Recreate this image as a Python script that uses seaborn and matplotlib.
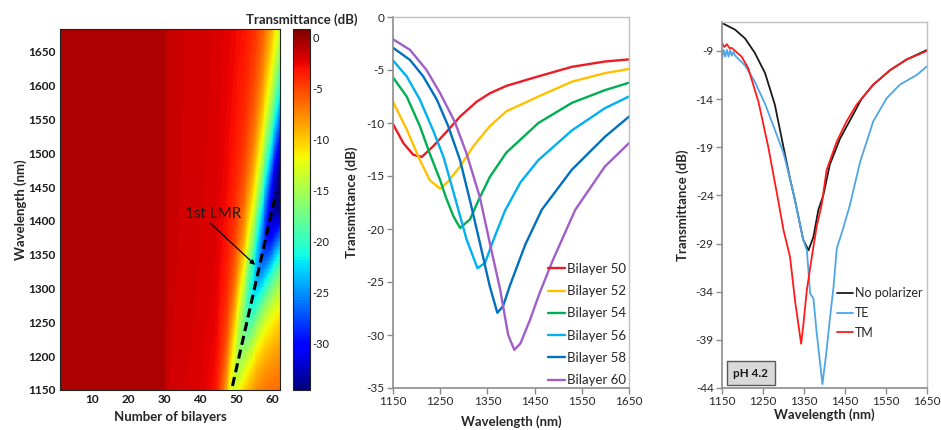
import numpy as np
import pandas as pd
import matplotlib
matplotlib.use('Agg')
import matplotlib.pyplot as plt
from matplotlib.ticker import MultipleLocator, FixedLocator
import seaborn as sns

sns.set_theme(style='white')
plt.rcParams['font.family'] = ['Lato', 'DejaVu Sans']
plt.rcParams['axes.unicode_minus'] = False

# ---------------- Panel 1: simulated map (model parameters)
hm_nodes  = [1, 30, 31, 40, 44, 46, 48, 50, 52, 54, 56, 58, 60, 62]
hm_base   = [-0.7, -0.7, -1.5, -1.8, -1.9, -2.0, -2.1, -2.2, -2.2, -2.3, -2.3, -2.4, -2.4, -2.5]
hm_center = [1000, 1000, 800, 900, 980, 1050, 1120, 1190, 1240, 1285, 1328, 1370, 1410, 1445]
hm_depth  = [0, 0, -2, -3, -4, -7, -9.5, -12, -15, -18.5, -22, -26, -30, -33]
hm_wleft  = [90, 90, 90, 90, 90, 92, 95, 98, 100, 100, 100, 102, 106, 110]
hm_wright = [110, 110, 110, 110, 110, 110, 110, 112, 115, 120, 128, 140, 152, 165]
hm_bilayer_grid = np.arange(1.0, 62.51, 0.25)
hm_wl_grid = np.arange(1686, 1148, -2)
lmr_line_bilayer = [49.0, 61.1]
lmr_line_wl = [1156, 1442]
lmr_text_pos = (35.8, 1404)
lmr_arrow_start = (42.8, 1397)
lmr_arrow_end = (55.3, 1335)
hm_xticks = [10, 20, 30, 40, 50, 60]
hm_yticks = [1150, 1200, 1250, 1300, 1350, 1400, 1450, 1500, 1550, 1600, 1650]
cbar_ticks = [0, -5, -10, -15, -20, -25, -30]

# ---------------- Panel 2: measured spectra vs bilayers
b50_wl = [1150, 1172, 1193, 1211, 1235, 1264, 1292, 1327, 1355, 1390, 1458, 1529, 1599, 1650]
b50_t  = [-10.1, -11.9, -13.0, -13.2, -12.2, -10.8, -9.4, -8.0, -7.2, -6.5, -5.6, -4.7, -4.2, -4.0]
b52_wl = [1150, 1179, 1207, 1228, 1250, 1267, 1292, 1320, 1355, 1390, 1458, 1529, 1599, 1650]
b52_t  = [-8.0, -10.6, -13.5, -15.4, -16.2, -15.5, -14.1, -12.2, -10.3, -8.9, -7.5, -6.1, -5.3, -4.9]
b54_wl = [1150, 1179, 1207, 1228, 1250, 1262, 1278, 1292, 1313, 1331, 1355, 1390, 1458, 1529, 1599, 1650]
b54_t  = [-5.7, -7.5, -10.3, -12.9, -15.4, -17.0, -18.8, -19.9, -19.1, -17.3, -15.1, -12.8, -10.0, -8.1, -6.9, -6.2]
b56_wl = [1150, 1179, 1207, 1235, 1257, 1278, 1306, 1329, 1345, 1363, 1387, 1420, 1458, 1529, 1599, 1650]
b56_t  = [-4.1, -5.6, -7.8, -10.7, -13.2, -16.5, -21.0, -23.7, -23.2, -21.0, -18.3, -15.6, -13.5, -10.7, -8.6, -7.5]
b58_wl = [1150, 1186, 1214, 1243, 1267, 1292, 1313, 1334, 1355, 1371, 1383, 1398, 1430, 1465, 1529, 1599, 1650]
b58_t  = [-2.9, -4.05, -5.6, -7.8, -10.3, -13.5, -17.3, -21.3, -25.4, -27.9, -27.3, -25.3, -21.5, -18.2, -14.4, -11.3, -9.4]
b60_wl = [1150, 1186, 1221, 1250, 1281, 1306, 1334, 1355, 1377, 1394, 1407, 1420, 1440, 1461, 1489, 1536, 1599, 1650]
b60_t  = [-2.1, -3.1, -5.0, -7.2, -9.9, -12.9, -17.0, -21.3, -25.7, -30.0, -31.4, -30.8, -28.6, -26.0, -22.9, -18.2, -14.1, -11.9]
bilayer_labels = ['Bilayer 50', 'Bilayer 52', 'Bilayer 54', 'Bilayer 56', 'Bilayer 58', 'Bilayer 60']
bilayer_colors = ['#ED1C24', '#FFC000', '#00B050', '#00B0F0', '#0070C0', '#A05EC8']

# ---------------- Panel 3: polarization, pH 4.2
nopol_wl = [1150, 1182, 1206, 1230, 1255, 1279, 1300, 1316, 1328, 1348, 1361, 1373, 1385, 1397, 1413, 1438, 1470, 1490, 1519, 1560, 1600, 1650]
nopol_t  = [-6.1, -6.8, -7.7, -9.2, -11.3, -14.6, -19.0, -22.3, -24.5, -28.6, -29.7, -28.3, -25.5, -24.0, -20.8, -18.1, -15.6, -14.0, -12.5, -11.0, -9.9, -8.9]
te_wl = [1150, 1154, 1158, 1162, 1166, 1170, 1174, 1178, 1182, 1206, 1230, 1255, 1279, 1300, 1316, 1328, 1348, 1357, 1365, 1373, 1381, 1395, 1404, 1414, 1422, 1430, 1445, 1462, 1487, 1519, 1552, 1584, 1625, 1650]
te_t  = [-9.8, -8.9, -9.6, -8.9, -9.6, -8.9, -9.5, -9.1, -9.5, -10.5, -12.2, -14.5, -17.2, -19.6, -22.3, -24.5, -28.6, -29.7, -34.2, -34.7, -38.3, -43.6, -40.5, -36.5, -33.5, -29.5, -27.5, -25.0, -20.5, -16.3, -13.9, -12.5, -11.5, -10.6]
tm_wl = [1150, 1156, 1162, 1168, 1174, 1198, 1214, 1239, 1263, 1287, 1300, 1316, 1328, 1336, 1343, 1348, 1357, 1369, 1381, 1393, 1405, 1430, 1454, 1478, 1519, 1560, 1600, 1650]
tm_t  = [-8.2, -8.6, -8.3, -8.7, -8.7, -9.6, -10.8, -14.3, -19.0, -24.5, -27.6, -30.4, -34.9, -37.3, -39.4, -37.6, -33.8, -30.4, -27.2, -25.0, -21.4, -18.4, -16.3, -14.6, -12.5, -11.0, -9.9, -9.0]
pol_labels = ['No polarizer', 'TE', 'TM']
pol_colors = ['#1a1a1a', '#4DA6E8', '#FF1A1A']

# ---------------------------------------------------------------------------
fig = plt.figure(figsize=(9.41, 4.30), dpi=100)
W, H = 941, 430
def rect(x0, y0, x1, y1):
    return [x0 / W, 1 - y1 / H, (x1 - x0) / W, (y1 - y0) / H]

ax1 = fig.add_axes(rect(60, 29, 280, 390))
cax = fig.add_axes(rect(293, 29, 310, 390))
ax2 = fig.add_axes(rect(393, 17, 629, 388))
ax3 = fig.add_axes(rect(722, 22, 927, 388))

# ---- Panel 1 heatmap
base = np.interp(hm_bilayer_grid, hm_nodes, hm_base)
cen = np.interp(hm_bilayer_grid, hm_nodes, hm_center)
dep = np.interp(hm_bilayer_grid, hm_nodes, hm_depth)
wlf = np.interp(hm_bilayer_grid, hm_nodes, hm_wleft)
wrt = np.interp(hm_bilayer_grid, hm_nodes, hm_wright)
WLg = hm_wl_grid[:, None]
delta = WLg - cen[None, :]
wid = np.where(delta < 0, wlf[None, :], wrt[None, :])
Tmap = base[None, :] + dep[None, :] / (1 + (delta / wid) ** 2)
dfmap = pd.DataFrame(Tmap, index=hm_wl_grid, columns=hm_bilayer_grid)

db = hm_bilayer_grid[1] - hm_bilayer_grid[0]
dl = hm_wl_grid[0] - hm_wl_grid[1]
def hx(b):
    return (np.asarray(b, float) - hm_bilayer_grid[0]) / db + 0.5
def hy(l):
    return (hm_wl_grid[0] - np.asarray(l, float)) / dl + 0.5

cmap = plt.get_cmap('jet', 128)
sns.heatmap(dfmap, ax=ax1, cmap=cmap, vmin=-34.6, vmax=0.8, cbar_ax=cax,
            xticklabels=False, yticklabels=False, rasterized=True)
ax1.set_xlim(hx(1.1), hx(62.2))
ax1.set_ylim(hy(1150), hy(1684))
ax1.set_xticks(hx(hm_xticks))
ax1.set_xticklabels([str(v) for v in hm_xticks], fontsize=8.5, fontweight='bold', rotation=0)
ax1.set_yticks(hy(hm_yticks))
ax1.set_yticklabels([str(v) for v in hm_yticks], fontsize=8.5, fontweight='bold', rotation=0)
ax1.tick_params(axis='both', length=0, pad=3, colors='#1a1a1a')
ax1.set_xlabel('Number of bilayers', fontsize=9.5, fontweight='bold', labelpad=4)
ax1.set_ylabel('Wavelength (nm)', fontsize=9.5, fontweight='bold', labelpad=1)
for s in ax1.spines.values():
    s.set_visible(True)
    s.set_color('#222222')
    s.set_linewidth(0.8)

ax1.plot(hx(lmr_line_bilayer), hy(lmr_line_wl), color='black', lw=2.2,
         linestyle=(0, (3.0, 1.6)))
ax1.text(hx(lmr_text_pos[0]), hy(lmr_text_pos[1]), '1st LMR', fontsize=11,
         color='#1a1a1a', ha='left', va='baseline')
ax1.annotate('', xy=(hx(lmr_arrow_end[0]), hy(lmr_arrow_end[1])),
             xytext=(hx(lmr_arrow_start[0]), hy(lmr_arrow_start[1])),
             arrowprops=dict(arrowstyle='-|>', color='black', lw=0.9,
                             mutation_scale=7, shrinkA=0, shrinkB=0))

cbar = ax1.collections[0].colorbar
cbar.set_ticks(cbar_ticks)
cbar.set_ticklabels([str(v) for v in cbar_ticks])
cbar.ax.tick_params(labelsize=8, length=0, pad=2, colors='#1a1a1a')
cbar.outline.set_visible(True)
cbar.outline.set_edgecolor('#222222')
cbar.outline.set_linewidth(0.8)
cax.set_title('Transmittance (dB)', fontsize=9.5, fontweight='bold', pad=4)

# ---- Panel 2 lines
wl_lists = [b50_wl, b52_wl, b54_wl, b56_wl, b58_wl, b60_wl]
t_lists = [b50_t, b52_t, b54_t, b56_t, b58_t, b60_t]
df2 = pd.concat([pd.DataFrame({'Wavelength': w, 'T': t, 'Series': lab})
                 for w, t, lab in zip(wl_lists, t_lists, bilayer_labels)],
                ignore_index=True)
sns.lineplot(data=df2, x='Wavelength', y='T', hue='Series', hue_order=bilayer_labels,
             palette=dict(zip(bilayer_labels, bilayer_colors)), sort=False,
             estimator=None, lw=1.7, ax=ax2)

df3 = pd.concat([pd.DataFrame({'Wavelength': w, 'T': t, 'Series': lab})
                 for w, t, lab in zip([nopol_wl, te_wl, tm_wl], [nopol_t, te_t, tm_t], pol_labels)],
                ignore_index=True)
sns.lineplot(data=df3, x='Wavelength', y='T', hue='Series', hue_order=pol_labels,
             palette=dict(zip(pol_labels, pol_colors)), sort=False,
             estimator=None, lw=1.3, ax=ax3)

def style_excel(ax, ylim, yticks, xpad, ypad):
    ax.set_xlim(1150, 1650)
    ax.set_ylim(*ylim)
    ax.set_xticks([1150, 1250, 1350, 1450, 1550, 1650])
    ax.xaxis.set_minor_locator(MultipleLocator(50))
    ax.set_yticks(yticks)
    ax.tick_params(axis='both', which='both', direction='out', color='#8c8c8c',
                   width=1, labelsize=8.5, labelcolor='#262626', pad=2)
    ax.tick_params(axis='both', which='major', length=4)
    ax.tick_params(axis='both', which='minor', length=4)
    ax.tick_params(axis='y', left=True)
    ax.tick_params(axis='x', bottom=True)
    for side in ['top', 'right']:
        ax.spines[side].set_visible(True)
        ax.spines[side].set_color('#bfbfbf')
        ax.spines[side].set_linewidth(1)
    for side in ['left', 'bottom']:
        ax.spines[side].set_visible(True)
        ax.spines[side].set_color('#8c8c8c')
        ax.spines[side].set_linewidth(1.2)
    ax.set_xlabel('Wavelength (nm)', fontsize=9.5, fontweight='bold', labelpad=xpad)
    ax.set_ylabel('Transmittance (dB)', fontsize=9.5, fontweight='bold', labelpad=ypad)
    ax.grid(False)

style_excel(ax2, (-35, 0), [0, -5, -10, -15, -20, -25, -30, -35], 6, 6)
ax2.yaxis.set_minor_locator(MultipleLocator(2.5))
style_excel(ax3, (-44, -6.0), [-9, -14, -19, -24, -29, -34, -39, -44], 1, 5)
ax3.yaxis.set_minor_locator(FixedLocator(np.arange(-41.5, -6.0, 5)))

h2, l2 = ax2.get_legend_handles_labels()
ax2.legend(h2, l2, loc='center left', bbox_to_anchor=(0.635, 0.171), frameon=False,
           fontsize=9.5, handlelength=1.3, handletextpad=0.15, labelspacing=0.78,
           borderaxespad=0, labelcolor='#262626')
h3, l3 = ax3.get_legend_handles_labels()
ax3.legend(h3, l3, loc='center left', bbox_to_anchor=(0.537, 0.205), frameon=False,
           fontsize=9, handlelength=1.3, handletextpad=0.15, labelspacing=0.62,
           borderaxespad=0, labelcolor='#262626')

ax3.text(0.14, 0.04, 'pH 4.2', transform=ax3.transAxes, ha='center', va='center',
         fontsize=8.5, fontweight='bold', color='#1a1a1a',
         bbox=dict(boxstyle='square,pad=0.55', fc='#d9d9d9', ec='#595959', lw=1))

fig.savefig('out.png', dpi=100)
